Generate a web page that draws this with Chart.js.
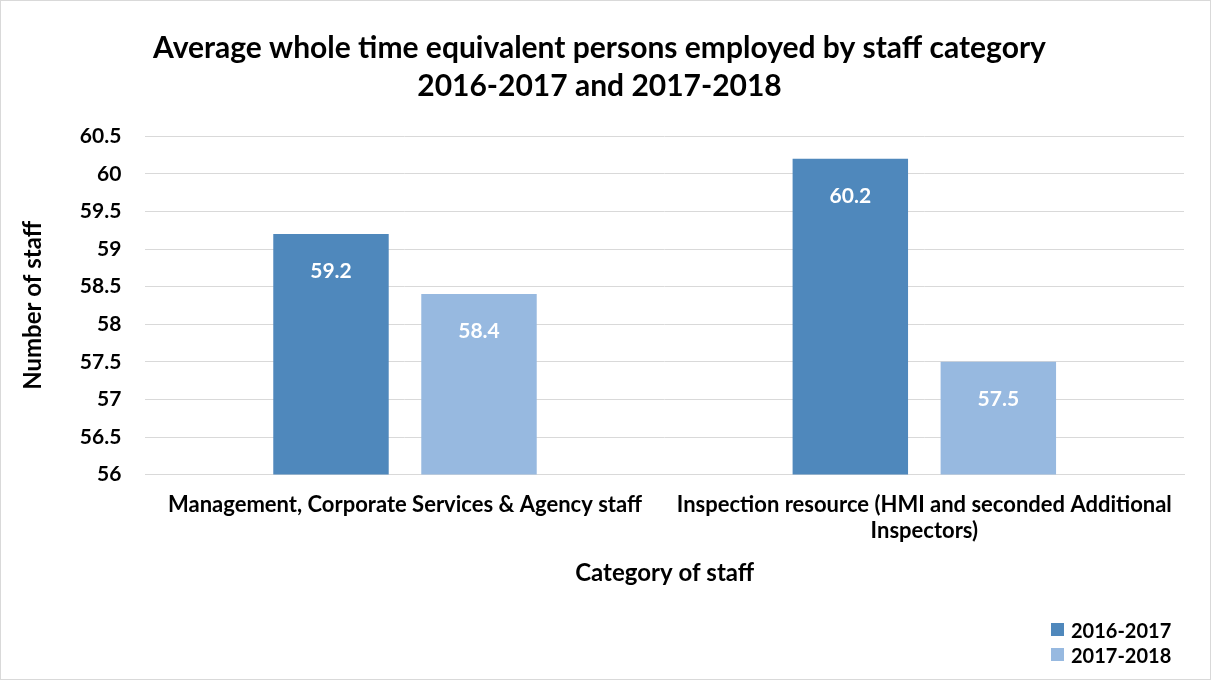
<!DOCTYPE html>
<html>
<head>
<meta charset="utf-8">
<script src="https://cdn.jsdelivr.net/npm/chart.js@4"></script>
<style>
  body { margin: 0; background: #fff; }
  #wrap { position: relative; width: 1211px; height: 680px; box-sizing: border-box; border: 1px solid #d9d9d9; }
  #legend { position: absolute; left: 1050px; top: 616px; font: bold 20px Lato, sans-serif; color: #000; }
  #legend div { display: flex; align-items: center; height: 25px; }
  #legend span { display: inline-block; width: 13px; height: 13px; margin-right: 7px; }
</style>
</head>
<body>
<div id="wrap">
  <canvas id="chart" width="1209" height="678"></canvas>
  <div id="legend"></div>
</div>
<script>
const categories = [
    'Management, Corporate Services & Agency staff',
    ['Inspection resource (HMI and seconded Additional', 'Inspectors)']
];
const seriesNames = ['2016-2017', '2017-2018'];
const values2016 = [59.2, 60.2];
const values2017 = [58.4, 57.5];
const colors = ['#4f88bc', '#97b9e0'];

const font = 'Lato, sans-serif';

const barLabels = {
    id: 'barLabels',
    afterDatasetsDraw(chart) {
        const ctx = chart.ctx;
        ctx.save();
        ctx.fillStyle = '#fff';
        ctx.font = 'bold 21px ' + font;
        ctx.textAlign = 'center';
        ctx.textBaseline = 'middle';
        chart.data.datasets.forEach((ds, i) => {
            chart.getDatasetMeta(i).data.forEach((bar, j) => {
                ctx.fillText(ds.data[j].toFixed(1), bar.x, bar.y + 37);
            });
        });
        ctx.restore();
    }
};

const ctx = document.getElementById('chart').getContext('2d');
new Chart(ctx, {
    type: 'bar',
    data: {
        labels: categories,
        datasets: [
            { label: seriesNames[0], data: values2016, backgroundColor: colors[0] },
            { label: seriesNames[1], data: values2017, backgroundColor: colors[1] }
        ]
    },
    options: {
        responsive: false,
        animation: false,
        categoryPercentage: 0.57,
        barPercentage: 0.78,
        layout: { padding: { left: 14, right: 26, top: 28, bottom: 87 } },
        plugins: {
            legend: { display: false },
            tooltip: { enabled: false },
            title: {
                display: true,
                text: ['Average whole time equivalent persons employed by staff category', '2016-2017 and 2017-2018'],
                color: '#000',
                font: { family: font, size: 30, weight: 'bold', lineHeight: 1.27 },
                padding: { top: 0, bottom: 31 }
            }
        },
        scales: {
            x: {
                grid: { display: false },
                border: { color: '#d9d9d9' },
                ticks: { color: '#000', font: { family: font, size: 22, weight: 'bold', lineHeight: 1.15 }, maxRotation: 0, padding: 10 },
                title: { display: true, text: 'Category of staff', color: '#000', font: { family: font, size: 24, weight: 'bold' }, padding: { top: 6 } }
            },
            y: {
                min: 56,
                max: 60.5,
                grid: { color: '#d9d9d9', drawTicks: false },
                border: { display: false },
                ticks: { stepSize: 0.5, color: '#000', font: { family: font, size: 21, weight: 'bold' }, padding: 24, callback: v => String(v) },
                title: { display: true, text: 'Number of staff', color: '#000', font: { family: font, size: 24, weight: 'bold' }, padding: { bottom: 8 } }
            }
        }
    },
    plugins: [barLabels]
});

const legend = document.getElementById('legend');
seriesNames.forEach((name, i) => {
    const row = document.createElement('div');
    row.innerHTML = '<span style="background:' + colors[i] + '"></span>' + name;
    legend.appendChild(row);
});
</script>
</body>
</html>
